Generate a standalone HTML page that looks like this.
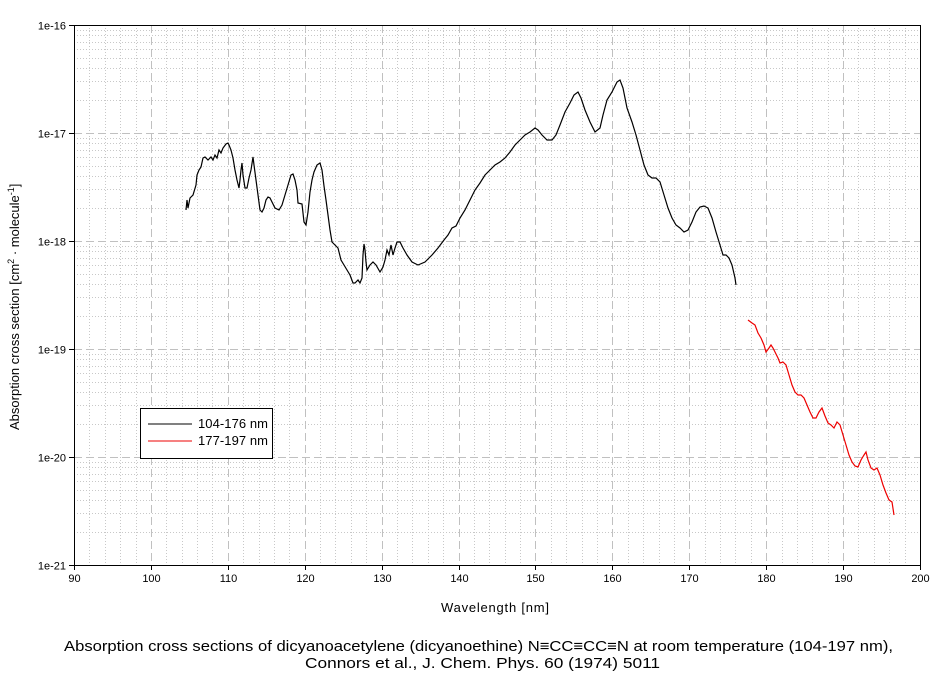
<!DOCTYPE html>
<html><head><meta charset="utf-8"><style>
body{margin:0;background:#fff;width:944px;height:676px;overflow:hidden;font-family:"Liberation Sans",sans-serif}
</style></head><body>
<svg id="s" width="944" height="676" xmlns="http://www.w3.org/2000/svg" font-family="Liberation Sans, sans-serif" font-size="12">
<g id="grid"></g>
<rect x="74.5" y="25.5" width="846" height="540" fill="none" stroke="#000" stroke-width="1"/>
<g id="ticks"></g>
<polyline fill="none" stroke="#000" stroke-width="1.2" points="186,210 187,200 188,208 190,198 193,195 196,185 197,175 199,170 201,167 203,158 205,157 208,160 211,157 213,160 215,155 217,158 219,150 221,153 223,148 226,144 228,143 229,145 231,150 233,158 235,170 237,180 239,188 240,180 241,170 242,163 243,175 245,188 247,188 249,178 251,170 253,157 254,165 256,180 258,195 260,210 262,212 264,208 266,200 268,197 270,198 272,202 275,208 279,210 282,205 285,195 288,185 291,175 293,174 295,180 297,190 298,203 302,204 304,222 306,225 308,212 310,192 312,180 314,172 317,165 320,163 322,170 324,186 326,200 328,215 330,230 332,242 335,245 338,248 341,260 344,265 347,270 350,275 353,283 355,283 358,280 360,283 362,278 363,255 364,244 365,250 366,262 367,270 370,265 373,262 376,265 380,272 383,267 385,260 387,250 389,255 391,245 393,255 395,248 397,242 400,242 403,248 407,255 412,262 418,265 425,262 432,255 438,248 444,240 448,235 452,228 456,226 460,218 465,210 470,200 475,190 480,183 485,175 490,170 495,165 500,162 505,158 510,152 515,145 520,140 525,135 530,132 535,128 538,130 542,135 547,140 552,140 556,135 560,125 565,112 570,103 574,95 578,92 581,98 585,110 590,122 595,132 600,128 603,115 607,100 612,92 617,82 620,80 623,88 627,108 632,122 636,135 640,150 644,165 648,175 652,178 656,178 660,182 664,195 668,208 672,218 676,225 680,228 684,232 688,230 692,222 696,212 700,207 704,206 708,208 712,218 716,232 720,245 723,255 726,255 729,258 732,265 735,278 736,285"/>
<polyline fill="none" stroke="#e00" stroke-width="1.2" points="748,320 752,323 755,325 758,333 761,338 764,345 766,352 769,348 771,345 773,348 775,352 778,358 780,363 783,362 786,365 789,375 792,385 795,392 798,395 801,395 804,398 807,405 810,412 813,418 816,418 819,412 822,408 825,416 828,423 831,425 834,428 837,422 840,425 843,435 846,445 849,455 852,462 855,466 858,467 861,460 864,455 866,452 868,460 871,468 874,470 877,468 880,475 883,485 886,493 889,500 892,502 894,515"/>
<rect x="140.5" y="408.5" width="132" height="50" fill="#fff" stroke="#000"/>
<line x1="148" y1="424" x2="192" y2="424" stroke="#000"/>
<line x1="148" y1="441" x2="192" y2="441" stroke="#e00"/>
<text x="198" y="428" font-size="13" textLength="70">104-176 nm</text>
<text x="198" y="445" font-size="13" textLength="70">177-197 nm</text>
<text x="441" y="612" font-size="13" textLength="108">Wavelength [nm]</text>
<text transform="translate(19,430) rotate(-90)" font-size="13">Absorption cross section [cm<tspan font-size="9" dy="-5">2</tspan><tspan dy="5"> · molecule</tspan><tspan font-size="9" dy="-5">-1</tspan><tspan dy="5">]</tspan></text>
<text x="64" y="651" font-size="15" textLength="829" lengthAdjust="spacingAndGlyphs">Absorption cross sections of dicyanoacetylene (dicyanoethine) N≡CC≡CC≡N at room temperature (104-197 nm),</text>
<text x="305" y="668" font-size="15" textLength="355" lengthAdjust="spacingAndGlyphs">Connors et al., J. Chem. Phys. 60 (1974) 5011</text>
</svg>
<script>
var g=document.getElementById('grid'),t=document.getElementById('ticks'),ns='http://www.w3.org/2000/svg';
function L(p,x1,y1,x2,y2,st,da){var l=document.createElementNS(ns,'line');l.setAttribute('x1',x1);l.setAttribute('y1',y1);l.setAttribute('x2',x2);l.setAttribute('y2',y2);l.setAttribute('stroke',st);if(da)l.setAttribute('stroke-dasharray',da);p.appendChild(l);}
function T(x,y,s,a){var e=document.createElementNS(ns,'text');e.setAttribute('x',x);e.setAttribute('y',y);e.setAttribute('text-anchor',a);e.setAttribute('font-size','11');e.textContent=s;t.appendChild(e);}
var X=function(w){return 74+(w-90)*846/110;};
for(var w=90;w<=200;w+=2){var x=Math.round(X(w))+.5;if(w%10==0){if(w>90&&w<200)L(g,x,25,x,565,'#c0c0c0','8,4');L(t,x,565,x,570,'#000');T(x,582,w,'middle');}else L(g,x,25,x,565,'#c8c8c8','1,2');}
for(var d=0;d<5;d++){var y0=25+d*108;for(var k=2;k<10;k++){var y=Math.round(y0+108-108*Math.log10(k))+.5;L(g,74,y,920,y,'#c8c8c8','1,2');}}
for(var d=0;d<=5;d++){var y=25+d*108+.5;if(d>0&&d<5)L(g,74,y,920,y,'#c0c0c0','8,4');L(t,69,y,74,y,'#000');T(66,y+4,'1e-'+(16+d),'end');}
</script>
</body></html>
